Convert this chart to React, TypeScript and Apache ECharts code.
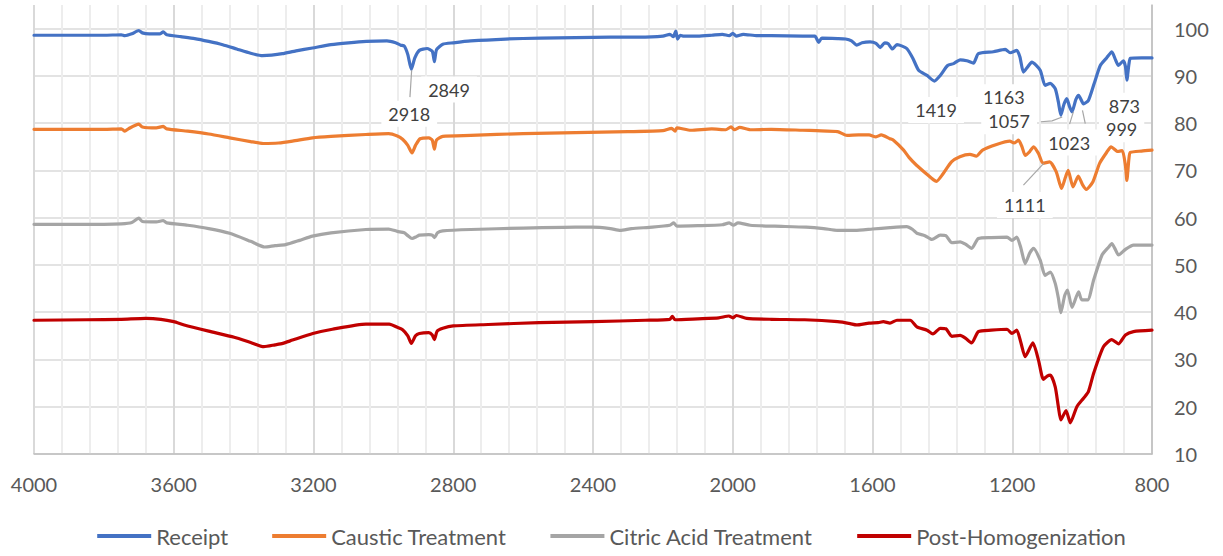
import React, { useEffect, useRef } from 'react';
import * as echarts from 'echarts';

const seriesNames = ['Receipt', 'Caustic Treatment', 'Citric Acid Treatment', 'Post-Homogenization'];
const seriesColors = ['#4472C4', '#ED7D31', '#A5A5A5', '#C00000'];

const receipt = [
  [4000, 98.6], [3900, 98.6], [3800, 98.6], [3750, 98.7], [3740, 98.5], [3720, 98.9], [3700, 99.6], [3690, 99.1],
  [3670, 98.9], [3640, 98.9], [3630, 99.3], [3620, 98.7], [3580, 98.3], [3540, 97.9], [3500, 97.3], [3460, 96.6],
  [3420, 95.7], [3380, 94.8], [3346, 94.3], [3320, 94.4], [3289, 94.7], [3250, 95.3], [3203, 95.9], [3150, 96.6],
  [3100, 97.0], [3049, 97.3], [2990, 97.4], [2965, 97.0], [2950, 96.5], [2940, 96.3], [2930, 94.5], [2920, 91.4],
  [2910, 93.8], [2897, 95.4], [2875, 95.8], [2860, 95.2], [2854, 93.0], [2848, 95.5], [2830, 96.7], [2800, 97.0],
  [2750, 97.4], [2650, 97.8], [2550, 98.0], [2450, 98.1], [2350, 98.2], [2270, 98.2], [2200, 98.4], [2180, 98.8],
  [2170, 98.3], [2163, 99.5], [2158, 97.8], [2150, 98.6], [2140, 98.4], [2100, 98.4], [2060, 98.6], [2030, 98.8],
  [2010, 98.5], [2000, 99.0], [1990, 98.4], [1970, 98.8], [1930, 98.5], [1890, 98.5], [1800, 98.4], [1765, 98.4],
  [1754, 97.1], [1745, 98.0], [1700, 97.9], [1677, 97.8], [1660, 97.4], [1645, 96.5], [1630, 97.0], [1607, 97.2],
  [1590, 96.9], [1578, 96.0], [1565, 97.0], [1555, 96.8], [1543, 95.7], [1530, 96.6], [1515, 96.3], [1502, 95.8],
  [1485, 93.8], [1468, 91.2], [1444, 90.1], [1423, 88.9], [1406, 90.1], [1385, 92.2], [1368, 92.6], [1349, 93.4],
  [1330, 93.2], [1311, 92.7], [1297, 94.7], [1254, 95.1], [1220, 95.6], [1206, 94.9], [1187, 95.4], [1178, 94.0],
  [1168, 90.8], [1155, 92.0], [1144, 92.9], [1120, 91.2], [1106, 88.0], [1091, 88.4], [1077, 87.3], [1068, 84.5],
  [1061, 81.7], [1052, 84.0], [1044, 85.2], [1036, 83.5], [1029, 82.4], [1018, 85.0], [1010, 85.9], [996, 84.1],
  [982, 84.8], [965, 88.5], [948, 92.2], [930, 93.8], [915, 95.1], [905, 93.5], [896, 92.2], [882, 93.2],
  [876, 92.0], [872, 89.1], [866, 92.5], [862, 93.7], [830, 93.8], [800, 93.8],
];

const caustic = [
  [4000, 78.7], [3800, 78.7], [3750, 78.8], [3740, 78.3], [3730, 78.8], [3700, 79.8], [3690, 79.2], [3650, 79.0],
  [3630, 79.3], [3620, 78.8], [3560, 78.3], [3500, 77.7], [3440, 76.9], [3380, 76.1], [3344, 75.7], [3300, 75.8],
  [3260, 76.2], [3203, 76.9], [3150, 77.2], [3050, 77.6], [2985, 77.8], [2960, 77.3], [2945, 76.6], [2930, 75.3],
  [2918, 73.7], [2908, 75.3], [2895, 76.7], [2870, 76.9], [2860, 76.4], [2854, 74.5], [2848, 76.4], [2830, 77.2],
  [2750, 77.4], [2600, 77.8], [2450, 78.0], [2300, 78.2], [2200, 78.4], [2175, 78.9], [2165, 78.3], [2160, 79.0],
  [2120, 78.5], [2060, 78.8], [2020, 78.6], [2005, 79.2], [1995, 78.6], [1980, 79.1], [1950, 78.6], [1890, 78.7],
  [1800, 78.5], [1760, 78.4], [1700, 78.2], [1673, 77.4], [1640, 77.5], [1610, 77.5], [1590, 77.1], [1575, 77.5],
  [1550, 76.7], [1540, 76.4], [1511, 74.3], [1495, 72.7], [1474, 71.1], [1446, 69.3], [1425, 68.0], [1417, 67.7],
  [1398, 69.3], [1374, 71.8], [1350, 72.9], [1321, 73.4], [1303, 73.0], [1285, 74.3], [1245, 75.5], [1207, 76.2],
  [1195, 75.8], [1182, 76.4], [1172, 75.0], [1163, 73.2], [1150, 74.0], [1139, 75.0], [1125, 73.6], [1112, 71.5],
  [1093, 71.8], [1074, 69.7], [1059, 66.2], [1048, 68.5], [1040, 70.0], [1026, 66.5], [1011, 68.8], [999, 67.0],
  [988, 66.0], [969, 67.6], [950, 71.5], [930, 73.8], [917, 75.0], [898, 74.0], [885, 74.2], [876, 71.0],
  [872, 67.9], [866, 72.5], [862, 73.8], [830, 74.1], [800, 74.3],
];

const citric = [
  [4000, 58.6], [3800, 58.6], [3750, 58.7], [3720, 59.0], [3700, 59.9], [3690, 59.2], [3650, 59.1], [3630, 59.4],
  [3620, 58.9], [3560, 58.4], [3500, 57.7], [3440, 56.7], [3380, 55.0], [3340, 53.8], [3310, 54.1], [3280, 54.3],
  [3240, 55.2], [3203, 56.1], [3150, 56.8], [3050, 57.5], [2985, 57.6], [2960, 57.1], [2940, 56.8], [2930, 56.2],
  [2918, 55.6], [2905, 56.0], [2897, 56.3], [2870, 56.4], [2860, 56.3], [2854, 55.8], [2845, 56.8], [2830, 57.2],
  [2750, 57.5], [2600, 57.8], [2450, 58.0], [2403, 58.0], [2350, 57.7], [2322, 57.3], [2290, 57.7], [2230, 58.0],
  [2180, 58.4], [2169, 58.9], [2160, 58.2], [2100, 58.3], [2030, 58.5], [2010, 58.9], [1998, 58.4], [1985, 58.9],
  [1950, 58.4], [1880, 58.2], [1790, 58.0], [1740, 57.7], [1700, 57.3], [1650, 57.3], [1600, 57.6], [1550, 57.9],
  [1502, 58.1], [1485, 57.5], [1473, 56.7], [1450, 56.2], [1430, 55.4], [1406, 56.3], [1390, 56.2], [1373, 54.7],
  [1349, 54.9], [1334, 54.4], [1316, 53.5], [1297, 55.6], [1260, 55.8], [1215, 55.9], [1201, 55.2], [1187, 55.9],
  [1175, 53.5], [1163, 50.3], [1150, 52.5], [1139, 53.5], [1120, 51.0], [1106, 47.8], [1091, 48.5], [1077, 46.1],
  [1068, 43.0], [1061, 39.9], [1050, 43.5], [1042, 44.7], [1029, 41.0], [1010, 44.3], [1001, 42.6], [984, 42.6],
  [967, 46.8], [943, 52.1], [925, 53.7], [915, 54.5], [905, 53.3], [896, 52.1], [876, 53.3], [853, 54.2], [800, 54.2],
];

const postHomog = [
  [4000, 38.3], [3850, 38.4], [3750, 38.5], [3680, 38.7], [3637, 38.5], [3600, 38.0], [3570, 37.3], [3500, 36.0],
  [3427, 34.7], [3380, 33.6], [3342, 32.7], [3310, 33.1], [3288, 33.4], [3260, 34.1], [3202, 35.5], [3146, 36.4],
  [3050, 37.5], [2983, 37.5], [2960, 36.8], [2945, 36.3], [2930, 35.0], [2920, 33.4], [2908, 35.0], [2897, 35.5],
  [2870, 35.7], [2860, 35.2], [2854, 34.2], [2846, 36.0], [2830, 36.6], [2800, 37.1], [2700, 37.4], [2554, 37.8],
  [2400, 38.0], [2250, 38.3], [2180, 38.5], [2173, 39.1], [2165, 38.4], [2100, 38.6], [2040, 38.8], [2011, 39.2],
  [2000, 38.8], [1990, 39.3], [1960, 38.7], [1889, 38.5], [1794, 38.4], [1700, 38.0], [1664, 37.6], [1646, 37.3],
  [1610, 37.7], [1584, 37.8], [1569, 38.0], [1550, 37.7], [1530, 38.3], [1492, 38.3], [1473, 36.9], [1444, 36.2],
  [1427, 35.4], [1406, 36.6], [1390, 36.5], [1373, 34.9], [1349, 35.1], [1334, 34.5], [1316, 33.5], [1297, 35.9],
  [1260, 36.2], [1215, 36.4], [1201, 35.5], [1187, 36.2], [1175, 33.5], [1163, 30.6], [1141, 33.5], [1125, 29.9],
  [1111, 25.8], [1100, 26.5], [1091, 26.7], [1077, 24.2], [1068, 20.0], [1061, 17.2], [1046, 19.2], [1034, 16.6],
  [1015, 20.0], [996, 21.8], [982, 23.2], [967, 27.1], [939, 32.7], [915, 34.2], [896, 33.3], [876, 35.2],
  [853, 35.9], [800, 36.2],
];

const seriesData = [receipt, caustic, citric, postHomog];

// peak labels: label centre and leader-line points, in data coordinates (wavenumber, %T)
const peakLabels = ['2918', '2849', '1419', '1163', '1057', '1023', '999', '873', '1111'];
const peakLabelAt = [
  [2926, 82.0], [2812, 87.1], [1418, 82.8], [1224, 85.5], [1209, 80.4], [1037, 75.9], [887, 78.7], [879, 83.7], [1164, 62.7],
];
const peakLeaders = [
  [[2919, 91.2], [2924, 85.5]],
  [],
  [],
  [],
  [[1118, 80.3], [1086, 80.5], [1057, 81.3]],
  [[1036, 79.8], [1025, 82.4]],
  [[991, 79.9], [999, 82.7]],
  [],
  [[1168, 66.9], [1110, 71.5]],
];

const FONT = 'Lato, "Open Sans", sans-serif';

export default function App() {
  const ref = useRef<HTMLDivElement>(null);
  useEffect(() => {
    const chart = echarts.init(ref.current as HTMLDivElement, undefined, { renderer: 'svg' });
    chart.setOption({
      animation: false,
      backgroundColor: '#fff',
      grid: { left: 34, right: 71, top: 5, bottom: 102, containLabel: false },
      xAxis: {
        type: 'value',
        min: 800,
        max: 4000,
        interval: 400,
        inverse: true,
        axisLine: { show: true, lineStyle: { color: '#bfbfbf', width: 1.5 } },
        axisTick: { show: false },
        axisLabel: {
          color: '#595959',
          fontSize: 20,
          fontFamily: FONT,
          margin: 20,
          formatter: (v: number) => String(v),
        },
        splitLine: { show: true, lineStyle: { color: '#d9d9d9', width: 2 } },
        minorTick: { show: true, splitNumber: 5, length: 0, lineStyle: { color: 'rgba(0,0,0,0)' } },
        minorSplitLine: { show: true, lineStyle: { color: '#ededed', width: 2 } },
      },
      yAxis: {
        type: 'value',
        position: 'right',
        min: 10,
        max: 105,
        interval: 10,
        axisLine: { show: true, lineStyle: { color: '#bfbfbf', width: 1.5 } },
        axisTick: { show: false },
        axisLabel: { color: '#595959', fontSize: 20, fontFamily: FONT, margin: 22, showMaxLabel: false },
        splitLine: { show: true, showMaxLine: false, lineStyle: { color: '#dadada', width: 1.5 } },
      },
      legend: {
        data: seriesNames,
        bottom: 4,
        left: 'center',
        icon: 'rect',
        itemWidth: 54,
        itemHeight: 4,
        itemGap: 44,
        textStyle: { color: '#595959', fontSize: 22, fontFamily: FONT },
      },
      series: seriesNames.map((name, i) => ({
        name,
        type: 'line',
        data: seriesData[i],
        showSymbol: false,
        symbol: 'none',
        smooth: 0.2,
        color: seriesColors[i],
        lineStyle: { color: seriesColors[i], width: 3.2, cap: 'round', join: 'round' },
        z: 2 + i,
      })),
    });

    const graphics: any[] = [];
    peakLabels.forEach((label, i) => {
      const pts = peakLeaders[i];
      if (pts.length > 1) {
        graphics.push({
          type: 'polyline',
          z: 100,
          shape: { points: pts.map((p) => chart.convertToPixel({ gridIndex: 0 }, p)) },
          style: { stroke: '#a6a6a6', lineWidth: 1.2, fill: null },
        });
      }
    });
    peakLabels.forEach((label, i) => {
      const [x, y] = chart.convertToPixel({ gridIndex: 0 }, peakLabelAt[i]) as number[];
      graphics.push({
        type: 'text',
        z: 99,
        x,
        y,
        style: {
          text: label,
          font: '18px ' + FONT,
          fill: '#404040',
          align: 'center',
          verticalAlign: 'middle',
          backgroundColor: '#ffffff',
          padding: [4, 7],
        },
      });
    });
    chart.setOption({ graphic: graphics });
    return () => chart.dispose();
  }, []);
  return <div ref={ref} style={{ position: 'fixed', left: 0, top: 0, width: 1223, height: 556 }} />;
}
